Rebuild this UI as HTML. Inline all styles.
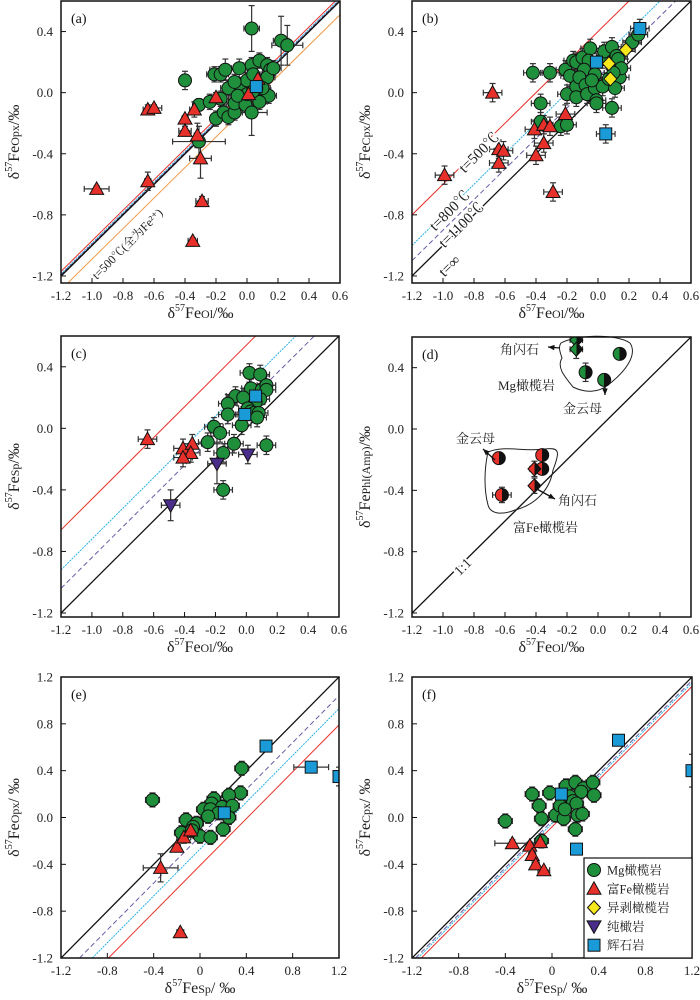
<!DOCTYPE html>
<html><head><meta charset="utf-8">
<style>
html,body{margin:0;padding:0;background:#fff;width:700px;height:1000px;overflow:hidden;}
svg{display:block;font-family:"Liberation Serif","Noto Serif CJK SC",serif;}
</style></head>
<body>
<svg id="fig" width="700" height="1000" viewBox="0 0 700 1000" xmlns="http://www.w3.org/2000/svg">
<defs>
<linearGradient id="halfG" x1="0" x2="1" y1="0" y2="0"><stop offset="0.5" stop-color="#1f8f3c"/><stop offset="0.5" stop-color="#111"/></linearGradient>
<linearGradient id="halfR" x1="0" x2="1" y1="0" y2="0"><stop offset="0.5" stop-color="#e8302a"/><stop offset="0.5" stop-color="#111"/></linearGradient>
</defs>
</svg>
<script>
// ---------- data ----------
// panel a: Ol vs Opx
const aMgX=[0.03,0.22,0.26,-0.40,-0.31,-0.31,-0.21,-0.17,-0.14,-0.05,-0.20,-0.24,-0.17,-0.12,-0.15,-0.12,-0.08,-0.08,-0.01,0.03,-0.04,0.00,0.03,0.04,0.08,0.13,0.15,0.13,0.17,0.14,0.08,0.10,0.00,-0.06,-0.08,0.06,0.04];
const aMgY=[0.42,0.34,0.31,0.08,-0.08,-0.32,0.12,0.12,0.15,0.16,-0.17,-0.06,-0.04,0.03,-0.13,-0.16,-0.13,-0.07,-0.08,-0.13,0.04,0.08,0.18,0.12,0.21,0.18,0.15,0.10,0.16,-0.02,-0.06,0.03,-0.01,-0.02,0.07,0.03,0.01];
const aMgXe=[0.05,0.05,0.1,0.02,0.03,0.17,0.05,0.05,0.1,0.05,0.03,0.05,0.05,0.05,0.04,0.04,0.05,0.05,0.05,0.1,0.05,0.05,0.05,0.05,0.05,0.05,0.05,0.05,0.05,0.05,0.05,0.05,0.05,0.05,0.05,0.05,0.05];
const aMgYe=[0.15,0.16,0.13,0.06,0.04,0.1,0.05,0.05,0.07,0.06,0.05,0.05,0.05,0.05,0.05,0.05,0.05,0.05,0.05,0.15,0.05,0.05,0.05,0.05,0.05,0.05,0.05,0.05,0.05,0.05,0.05,0.05,0.05,0.05,0.05,0.05,0.05];
const aFeX=[-0.97,-0.64,-0.64,-0.60,-0.40,-0.40,-0.34,-0.32,-0.30,-0.29,-0.35,0.07,0.01,-0.20];
const aFeY=[-0.63,-0.58,-0.11,-0.10,-0.17,-0.25,-0.11,-0.28,-0.43,-0.71,-0.97,0.09,-0.01,-0.03];
const aFeXe=[0.08,0.02,0.03,0.05,0.02,0.04,0.03,0.02,0.07,0.04,0.03,0.03,0.03,0.03];
const aFeYe=[0.02,0.06,0.03,0.02,0.02,0.03,0.05,0.08,0.13,0.03,0.02,0.03,0.03,0.03];
const aPxX=[0.06], aPxY=[0.04];
// panel b: Ol vs Cpx
const bMgX=[-0.42,-0.31,-0.37,-0.24,-0.20,-0.37,-0.20,-0.21,-0.16,-0.14,-0.18,-0.14,-0.14,-0.10,-0.05,-0.06,-0.09,-0.12,-0.08,-0.07,-0.02,-0.01,-0.01,-0.02,0.03,0.04,0.03,0.07,0.09,0.12,0.13,0.14,0.15,0.11,0.10,0.09,0.22,0.26,-0.04];
const bMgY=[0.13,0.13,-0.07,-0.22,-0.21,-0.19,-0.01,0.15,0.21,0.20,0.11,0.04,-0.03,0.23,0.29,0.21,0.15,0.10,0.05,-0.01,0.03,-0.05,-0.07,0.12,0.22,0.27,0.04,0.09,0.30,0.24,0.22,0.10,0.16,0.03,0.13,-0.10,0.33,0.38,0.08];
const bFeX=[-0.99,-0.68,-0.64,-0.61,-0.64,-0.41,-0.35,-0.31,-0.35,-0.40,-0.21,-0.29];
const bFeY=[-0.54,0.00,-0.37,-0.38,-0.46,-0.24,-0.21,-0.22,-0.33,-0.41,-0.14,-0.65];
const bHzX=[0.07,0.18,0.08], bHzY=[0.19,0.28,0.09];
const bPxX=[-0.01,0.27,0.05], bPxY=[0.20,0.42,-0.27];
// panel c: Ol vs Sp
const cMgX=[0.02,0.09,0.03,0.10,0.13,0.13,-0.07,-0.02,-0.12,-0.12,0.09,0.06,0.01,0.03,0.05,0.08,0.07,-0.03,-0.21,-0.17,-0.25,-0.08,-0.15,0.13,-0.15];
const cMgY=[0.36,0.35,0.26,0.25,0.28,0.25,0.21,0.20,0.16,0.09,0.19,0.17,0.13,0.11,0.10,0.10,0.07,0.02,0.01,-0.03,-0.09,-0.10,-0.16,-0.11,-0.40];
const cFeX=[-0.64,-0.41,-0.35,-0.36,-0.41], cFeY=[-0.07,-0.13,-0.10,-0.16,-0.19];
const cDuX=[-0.19,0.01,-0.49], cDuY=[-0.23,-0.17,-0.50];
const cPxX=[0.06,-0.01], cPxY=[0.21,0.09];
// panel d: Ol vs Phl(Amp)
const dMgCX=[0.14,-0.08,0.04], dMgCY=[0.49,0.37,0.32];
const dMgDX=[-0.14,-0.14], dMgDY=[0.58,0.52];
const dFeCX=[-0.64,-0.36,-0.36,-0.62], dFeCY=[-0.19,-0.17,-0.26,-0.43];
const dFeDX=[-0.41,-0.41], dFeDY=[-0.26,-0.37];
// panel e: Sp vs Opx
const eMgX=[0.36,0.35,0.25,-0.41,0.12,0.10,0.19,0.28,0.03,0.09,0.16,0.07,0.25,-0.12,-0.03,-0.06,-0.16,0.00,0.09,0.20,-0.07];
const eMgY=[0.42,0.21,0.19,0.15,0.16,0.12,0.09,0.10,0.07,0.07,0.04,0.01,0.00,-0.02,-0.05,-0.08,-0.13,-0.16,-0.17,-0.10,-0.11];
const eFeX=[-0.34,-0.20,-0.14,-0.08,-0.17], eFeY=[-0.43,-0.25,-0.17,-0.11,-0.98];
const ePxX=[0.57,0.96,1.20,0.21], ePxY=[0.61,0.43,0.35,0.04];
// panel f: Sp vs Cpx
const fMgX=[-0.40,-0.17,-0.02,-0.11,-0.09,0.03,0.12,0.20,0.27,0.35,0.36,0.25,0.15,0.07,0.18,0.21,0.10,0.22,0.26,0.20,-0.09,0.11];
const fMgY=[-0.03,0.20,0.21,0.10,-0.01,0.02,0.27,0.30,0.25,0.30,0.19,0.22,0.18,0.10,0.14,0.12,-0.01,0.02,0.03,-0.10,-0.20,0.07];
const fFeX=[-0.34,-0.19,-0.10,-0.17,-0.14,-0.07], fFeY=[-0.22,-0.24,-0.21,-0.32,-0.40,-0.45];
const fPxX=[0.57,1.20,0.08,0.21], fPxY=[0.66,0.40,0.20,-0.27];
// tick labels
const ticksOlX=["-1.2","-1.0","-0.8","-0.6","-0.4","-0.2","0.0","0.2","0.4","0.6"];
const ticksOlY=["-1.2","-0.8","-0.4","0.0","0.4"];
const ticksSpX=["-1.2","-0.8","-0.4","0","0.4","0.8","1.2"];
const ticksSpY=["-1.2","-0.8","-0.4","0.0","0.4","0.8","1.2"];
// equilibrium line offsets (y = x + off)
const aOffsets=[0.03,0.015,0.008,0,-0.09];
const bOffsets=[0.40,0.20,0.10,0];
const cOffsets=[0.54,0.28,0.16,0];
const eOffsets=[0,-0.16,-0.27,-0.41];
const fOffsets=[0,-0.03,-0.05,-0.08];
const dOffsets=[0];

// ---------- drawing ----------
const NS="http://www.w3.org/2000/svg";
const svg=document.getElementById('fig');
function el(tag,attrs,parent){const e=document.createElementNS(NS,tag);for(const k in attrs)e.setAttribute(k,attrs[k]);(parent||svg).appendChild(e);return e;}
const COL={mg:"#1f8f3c",fe:"#e8302a",hz:"#f7e81c",du:"#4a2d8a",px:"#1b9ad8"};
const DEF_ERR=0.06;

function panel(cfg){
  const g=el('g',{});
  
  
  const [x0,y0,x1,y1]=cfg.box;
  const sx=v=>x0+(v-cfg.xr[0])/(cfg.xr[1]-cfg.xr[0])*(x1-x0);
  const sy=v=>y1-(v-cfg.yr[0])/(cfg.yr[1]-cfg.yr[0])*(y1-y0);
  const cid='clip'+cfg.id;
  const cp=el('clipPath',{id:cid},g);el('rect',{x:x0,y:y0,width:x1-x0,height:y1-y0},cp);
  const lg=el('g',{'clip-path':'url(#'+cid+')'},g);
  cfg.offsets.forEach((off,i)=>{
    const st=cfg.styles[i];
    const xa=Math.max(cfg.xr[0],cfg.yr[0]-off), xb=Math.min(cfg.xr[1],cfg.yr[1]-off);
    if(xb<=xa) return;
    const ln=el('line',{x1:sx(xa),y1:sy(xa+off),x2:sx(xb),y2:sy(xb+off),stroke:st[0],'stroke-width':st[2]||1,'stroke-dasharray':st[1]||'none'},lg);
    
    
  });
  if(cfg.extra) cfg.extra(g,sx,sy);
  const pg=el('g',{'clip-path':'url(#'+cid+')'},g);
  cfg.series.forEach(s=>{
    s.x.forEach((xv,i)=>{
      const px=sx(xv),py=sy(s.y[i]);
      const xe=s.xe?s.xe[i]:DEF_ERR, ye=s.ye?s.ye[i]:DEF_ERR;
      const eg=el('g',{stroke:'#333','stroke-width':1.2},pg);
      
      
      const hx=sx(xv+xe)-px, hy=py-sy(s.y[i]+ye);
      el('line',{x1:px-hx,y1:py,x2:px+hx,y2:py},eg);
      el('line',{x1:px,y1:py-hy,x2:px,y2:py+hy},eg);
      el('line',{x1:px-hx,y1:py-3,x2:px-hx,y2:py+3},eg);
      el('line',{x1:px+hx,y1:py-3,x2:px+hx,y2:py+3},eg);
      el('line',{x1:px-3,y1:py-hy,x2:px+3,y2:py-hy},eg);
      el('line',{x1:px-3,y1:py+hy,x2:px+3,y2:py+hy},eg);
    });
  });
  cfg.series.forEach(s=>{
    s.x.forEach((xv,i)=>{
      const m=marker(pg,s.shape,sx(xv),sy(s.y[i]),s.fill);
      
      
    });
  });
  const fr=el('rect',{x:x0,y:y0,width:x1-x0,height:y1-y0,fill:'none',stroke:'#111','stroke-width':1.5},g);
  
  
  cfg.xt.forEach(t=>{
    const v=parseFloat(t),px=sx(v);
    el('line',{x1:px,y1:y1,x2:px,y2:y1-5,stroke:'#111'},g);
    const tx=el('text',{x:px,y:y1+17,'text-anchor':'middle','font-size':13,fill:'#222'},g);tx.textContent=t;
    
    
  });
  cfg.yt.forEach(t=>{
    const v=parseFloat(t),py=sy(v);
    el('line',{x1:x0,y1:py,x2:x0+5,y2:py,stroke:'#111'},g);
    const tx=el('text',{x:x0-8,y:py+4.5,'text-anchor':'end','font-size':13,fill:'#222'},g);tx.textContent=t;
    
    
  });
  const lt=el('text',{x:x0+10,y:y0+22,'font-size':14,fill:'#111'},g);lt.textContent='('+cfg.id+')';
  
  
  const xt=el('text',{x:(x0+x1)/2,y:y1+35,'text-anchor':'middle','font-size':16,fill:'#222'},g);
  xt.innerHTML='δ<tspan dy="-7" font-size="10">57</tspan><tspan dy="7">Fe</tspan><tspan font-size="12">'+cfg.xsub+'</tspan>'+cfg.xunit;
  
  
  const cy=(y0+y1)/2;
  const yt=el('text',{x:0,y:0,'text-anchor':'middle','font-size':16,fill:'#222',transform:'translate('+(x0-42)+','+cy+') rotate(-90)'},g);
  yt.innerHTML='δ<tspan dy="-7" font-size="10">57</tspan><tspan dy="7">Fe</tspan><tspan font-size="12">'+cfg.ysub+'</tspan>'+cfg.yunit;
  
  
  return {g,sx,sy};
}
function marker(p,shape,x,y,fill){
  const a={fill:fill,stroke:'#111','stroke-width':1};
  if(shape==='c') return el('circle',Object.assign({cx:x,cy:y,r:6.5},a),p);
  if(shape==='t') return el('polygon',Object.assign({points:`${x},${y-7} ${x-7},${y+5.5} ${x+7},${y+5.5}`},a),p);
  if(shape==='v') return el('polygon',Object.assign({points:`${x},${y+7} ${x-7},${y-5.5} ${x+7},${y-5.5}`},a),p);
  if(shape==='d') return el('polygon',Object.assign({points:`${x},${y-7} ${x+6.5},${y} ${x},${y+7} ${x-6.5},${y}`},a),p);
  return el('rect',Object.assign({x:x-6,y:y-6,width:12,height:12},a),p);
}
function txt(p,x,y,s,size,extra){const t=el('text',Object.assign({x:x,y:y,'font-size':size||13,fill:'#222'},extra||{}),p);t.textContent=s;return t;}

const olStyles4=[['#e8302a'],['#2ab0e6','2,1'],['#6a5aa8','5,3'],['#111',null,1.3]];
// (a)
const A=panel({id:'a',box:[61,1,340,283],xr:[-1.2,0.6],yr:[-1.246,0.6],xt:ticksOlX,yt:ticksOlY,
  offsets:aOffsets,styles:[['#e8302a'],['#2ab0e6','2,1'],['#6a5aa8','4,2'],['#111',null,1.5],['#f29a4a']],
  xsub:'Ol',xunit:'/‰',ysub:'Opx',yunit:'/‰',
  series:[{name:'mg-peridotite',shape:'c',fill:COL.mg,x:aMgX,y:aMgY,xe:aMgXe,ye:aMgYe},
          {name:'fe-peridotite',shape:'t',fill:COL.fe,x:aFeX,y:aFeY,xe:aFeXe,ye:aFeYe},
          {name:'pyroxenite',shape:'s',fill:COL.px,x:aPxX,y:aPxY}]});
(function(){const t=txt(A.g,0,0,'t=500℃(全为Fe²⁺)',12,{transform:'translate(97,280) rotate(-45)'});})();
// (b)
const B=panel({id:'b',box:[412,1,691,283],xr:[-1.2,0.6],yr:[-1.246,0.6],xt:ticksOlX,yt:ticksOlY,
  offsets:bOffsets,styles:olStyles4,xsub:'Ol',xunit:'/‰',ysub:'Cpx',yunit:'/‰',
  series:[{name:'mg-peridotite',shape:'c',fill:COL.mg,x:bMgX,y:bMgY},
          {name:'fe-peridotite',shape:'t',fill:COL.fe,x:bFeX,y:bFeY},
          {name:'harzburgite',shape:'d',fill:COL.hz,x:bHzX,y:bHzY},
          {name:'pyroxenite',shape:'s',fill:COL.px,x:bPxX,y:bPxY}]});
[['t=500℃',-0.86,-0.53],['t=800℃',-1.05,-0.91],['t=1100℃',-0.99,-1.02],['t=∞',-0.99,-1.21]].forEach(r=>{
  const t=txt(B.g,0,0,r[0],15,{transform:`translate(${B.sx(r[1])},${B.sy(r[2])}) rotate(-45)`,'text-anchor':'start',stroke:'#fff','stroke-width':3,'paint-order':'stroke'});
  
  
});
// (c)
panel({id:'c',box:[61,336,339,617],xr:[-1.2,0.6],yr:[-1.226,0.6],xt:ticksOlX,yt:ticksOlY,
  offsets:cOffsets,styles:olStyles4,xsub:'Ol',xunit:'/‰',ysub:'Sp',yunit:'/‰',
  series:[{name:'mg-peridotite',shape:'c',fill:COL.mg,x:cMgX,y:cMgY},
          {name:'fe-peridotite',shape:'t',fill:COL.fe,x:cFeX,y:cFeY},
          {name:'dunite',shape:'v',fill:COL.du,x:cDuX,y:cDuY,ye:[0.13,0.06,0.1]},
          {name:'pyroxenite',shape:'s',fill:COL.px,x:cPxX,y:cPxY}]});
// (d)
const D=panel({id:'d',box:[412,337,691,617],xr:[-1.2,0.6],yr:[-1.226,0.6],xt:ticksOlX,yt:ticksOlY,
  offsets:dOffsets,styles:[['#111',null,1.3]],xsub:'Ol',xunit:'/‰',ysub:'Phl(Amp)',yunit:'/‰',
  extra:function(g){
    const b1=el('path',{d:'M561,343 C575,335 615,333 630,343 C638,355 625,372 608,385 C598,393 585,393 573,387 C566,378 556,368 562,358 C560,352 558,347 561,343 Z',fill:'none',stroke:'#222'},g);
    
    
    const b2=el('path',{d:'M488,452 C505,445 522,452 545,449 C560,447 560,452 553,470 C550,490 535,505 515,510 C500,516 490,513 488,505 C484,490 484,470 488,452 Z',fill:'none',stroke:'#222'},g);
    
    
  },
  series:[{name:'mg-phlogopite',shape:'c',fill:'url(#halfG)',x:dMgCX,y:dMgCY,xe:[0.03,0.03,0.01],ye:[0.02,0.06,0.01]},
          {name:'mg-amphibole',shape:'d',fill:'url(#halfG)',x:dMgDX,y:dMgDY,xe:[0.04,0.04],ye:[0.03,0.06]},
          {name:'fe-phlogopite',shape:'c',fill:'url(#halfR)',x:dFeCX,y:dFeCY,xe:[0.01,0.02,0.03,0.06],ye:[0.01,0.02,0.03,0.05]},
          {name:'fe-amphibole',shape:'d',fill:'url(#halfR)',x:dFeDX,y:dFeDY,xe:[0.03,0.02],ye:[0.05,0.05]}]});
(function(){
  const g=D.g;
  const arr=(x1,y1,x2,y2,n)=>{const l=el('line',{x1,y1,x2,y2,stroke:'#111','stroke-width':1.3},g);
    const a=Math.atan2(y2-y1,x2-x1),s=7;
    el('polygon',{points:`${x2},${y2} ${x2-s*Math.cos(a-0.4)},${y2-s*Math.sin(a-0.4)} ${x2-s*Math.cos(a+0.4)},${y2-s*Math.sin(a+0.4)}`,fill:'#111'},g);
    };
  arr(560,348,548,347,'amphibole-arrow-mg');
  arr(605,382,605,395,'phlogopite-arrow-mg');
  arr(495,460,483,449,'phlogopite-arrow-fe');
  arr(535,488,555,499,'amphibole-arrow-fe');
  [['角闪石',500,354],['Mg橄榄岩',498,390],['金云母',563,413],['金云母',456,443],['角闪石',558,505],['富Fe橄榄岩',513,532]].forEach(r=>{
    const t=txt(g,r[1],r[2],r[0],13);});
  const t=txt(g,0,0,'1:1',14,{transform:'translate(466,570) rotate(-45)','text-anchor':'middle',stroke:'#fff','stroke-width':4,'paint-order':'stroke'});
  
})();
// (e)
panel({id:'e',box:[61,677,339,958],xr:[-1.2,1.2],yr:[-1.2,1.2],xt:ticksSpX,yt:ticksSpY,
  offsets:eOffsets,styles:[['#111',null,1.3],['#6a5aa8','5,3'],['#2ab0e6','2,1'],['#e8302a']],xsub:'Sp',xunit:'/ ‰',ysub:'Opx',yunit:'/ ‰',
  series:[{name:'mg-peridotite',shape:'c',fill:COL.mg,x:eMgX,y:eMgY},
          {name:'fe-peridotite',shape:'t',fill:COL.fe,x:eFeX,y:eFeY,xe:[0.15,0.03,0.06,0.06,0.03],ye:[0.12,0.03,0.05,0.05,0.02]},
          {name:'pyroxenite',shape:'s',fill:COL.px,x:ePxX,y:ePxY,xe:[0.02,0.15,0.02,0.02],ye:[0.04,0.02,0.08,0.02]}]});
// (f)
const F=panel({id:'f',box:[412,677,692,958],xr:[-1.2,1.2],yr:[-1.2,1.2],xt:ticksSpX,yt:ticksSpY,
  offsets:fOffsets,styles:[['#111',null,1.3],['#6a5aa8','5,3'],['#2ab0e6','2,1'],['#e8302a']],xsub:'Sp',xunit:'/ ‰',ysub:'Cpx',yunit:'/ ‰',
  series:[{name:'mg-peridotite',shape:'c',fill:COL.mg,x:fMgX,y:fMgY},
          {name:'fe-peridotite',shape:'t',fill:COL.fe,x:fFeX,y:fFeY,xe:[0.15,0.03,0.03,0.03,0.03,0.05],ye:[0.03,0.03,0.03,0.03,0.03,0.02]},
          {name:'pyroxenite',shape:'s',fill:COL.px,x:fPxX,y:fPxY,xe:[0.02,0.02,0.02,0.03],ye:[0.02,0.14,0.02,0.02]}]});
// legend
(function(){
  const lg=el('g',{},F.g);
  
  
  el('rect',{x:584,y:858,width:108,height:100,fill:'#fff',stroke:'#111','stroke-width':1.2},lg);
  [['c',COL.mg,'Mg橄榄岩'],['t',COL.fe,'富Fe橄榄岩'],['d',COL.hz,'异剥橄榄岩'],['v',COL.du,'纯橄岩'],['s',COL.px,'辉石岩']].forEach((r,i)=>{
    const y=870+i*18.8;
    const e=el('g',{},lg);
    
    
    marker(e,r[0],594,y,r[1]);
    txt(e,607,y+4.5,r[2],12.5);
  });
})();
</script>
</body></html>
